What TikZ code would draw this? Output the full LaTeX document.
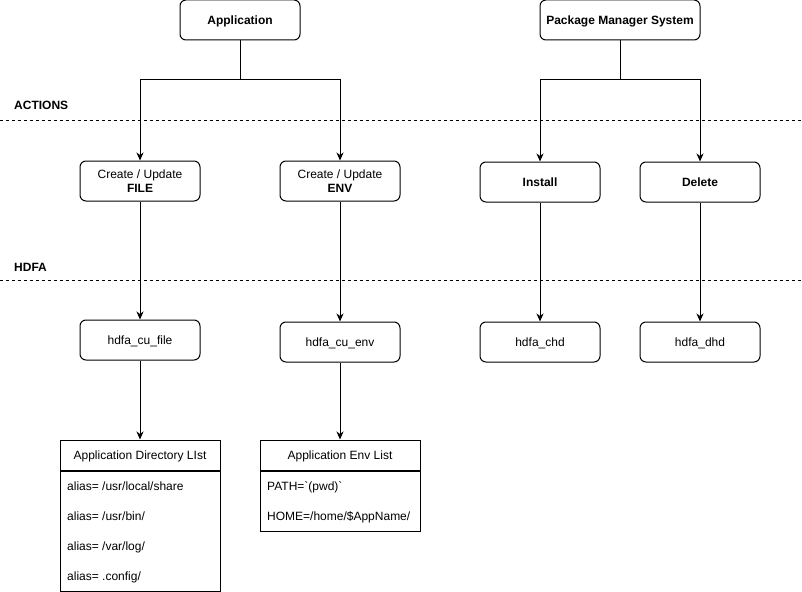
\documentclass[tikz,border=0pt]{standalone}
\usepackage{fontspec}
\setmainfont{Liberation Sans}
\usepackage{xcolor}
\usepackage{tikz}
\usetikzlibrary{positioning,arrows.meta}
\definecolor{linecolor}{RGB}{0,0,0}
\tikzset{
  proc box/.style={
    draw=linecolor,
    rounded corners=6pt,
    line width=1pt,
    minimum width=120pt,
    minimum height=40pt,
    align=center,
    font=\fontsize{12}{14}\selectfont
  },
  one line/.style={
    text height=9pt,
    text depth=0pt
  },
  top box/.style={
    proc box,
    one line,
    font=\fontsize{12}{14}\selectfont\bfseries
  },
  list head/.style={
    draw=linecolor,
    line width=1pt,
    one line,
    minimum width=160pt,
    minimum height=30pt,
    font=\fontsize{12}{14}\selectfont
  },
  list body/.style={
    draw=linecolor,
    line width=1pt,
    minimum width=160pt,
    inner sep=0pt
  },
  list item/.style={
    anchor=base west,
    inner sep=0pt,
    font=\fontsize{12}{14}\selectfont
  },
  layer label/.style={
    anchor=base west,
    inner sep=0pt,
    font=\fontsize{12}{14}\selectfont\bfseries
  },
  layer line/.style={
    line width=1pt,
    dash pattern=on 3pt off 3pt
  },
  link/.style={
    line width=1pt
  },
  arrow/.style={
    link,
    -{Stealth[length=8pt,width=7pt,inset=2.5pt]}
  }
}

\begin{document}
\begin{tikzpicture}[x=1pt,y=-1pt]
  \useasboundingbox (0,0) rectangle (802,591);

  % Sources
  \node[top box] (app) at (240,20) {Application};
  \node[top box, minimum width=160pt] (pms) at (620,20) {Package Manager System};

  % Layers
  \node[layer label] (actions) at (14,110) {ACTIONS};
  \coordinate (actl) at (0,120);
  \coordinate (actr) at (802,120);
  \draw[layer line] (actl) -- (actr);
  \node[layer label] (hdfa) at (14,271) {HDFA};
  \coordinate (hdfal) at (0,280);
  \coordinate (hdfar) at (802,280);
  \draw[layer line] (hdfal) -- (hdfar);

  % Actions
  \node[proc box] (cufile) at (140,181) {Create / Update\\\textbf{FILE}};
  \node[proc box] (cuenv) at (340,181) {Create / Update\\\textbf{ENV}};
  \node[top box, minimum width=120pt] (install) at (540,182) {Install};
  \node[top box, minimum width=120pt] (delete) at (700,182) {Delete};

  % HDFA calls
  \node[proc box, one line] (hcufile) at (140,340) {hdfa\_cu\_file};
  \node[proc box, one line] (hcuenv) at (340,342) {hdfa\_cu\_env};
  \node[proc box, one line] (hchd) at (540,342) {hdfa\_chd};
  \node[proc box, one line] (hdhd) at (700,342) {hdfa\_dhd};

  % Lists
  \node[list head] (dirhead) at (140,455) {Application Directory LIst};
  \node[list body, minimum height=120pt, below=0pt of dirhead] (dirbody) {};
  \node[list item] (dir1) at (67,490) {alias= /usr/local/share};
  \node[list item] (dir2) at (67,520) {alias= /usr/bin/};
  \node[list item] (dir3) at (67,550) {alias= /var/log/};
  \node[list item] (dir4) at (67,580) {alias= .config/};

  \node[list head] (envhead) at (340,455) {Application Env List};
  \node[list body, minimum height=60pt, below=0pt of envhead] (envbody) {};
  \node[list item] (env1) at (267,490) {PATH=\textasciigrave(pwd)\textasciigrave};
  \node[list item] (env2) at (267,520) {HOME=/home/\$AppName/};

  % Connectors
  \coordinate (appsplit) at (240,80);
  \coordinate (pmssplit) at (620,80);
  \draw[link] (app.south) -- (appsplit);
  \draw[arrow] (appsplit) -| (cufile.north);
  \draw[arrow] (appsplit) -| (cuenv.north);
  \draw[link] (pms.south) -- (pmssplit);
  \draw[arrow] (pmssplit) -| (install.north);
  \draw[arrow] (pmssplit) -| (delete.north);

  \draw[arrow] (cufile) -- (hcufile);
  \draw[arrow] (cuenv) -- (hcuenv);
  \draw[arrow] (install) -- (hchd);
  \draw[arrow] (delete) -- (hdhd);

  \draw[arrow] (hcufile) -- (dirhead);
  \draw[arrow] (hcuenv) -- (envhead);
\end{tikzpicture}
\end{document}
